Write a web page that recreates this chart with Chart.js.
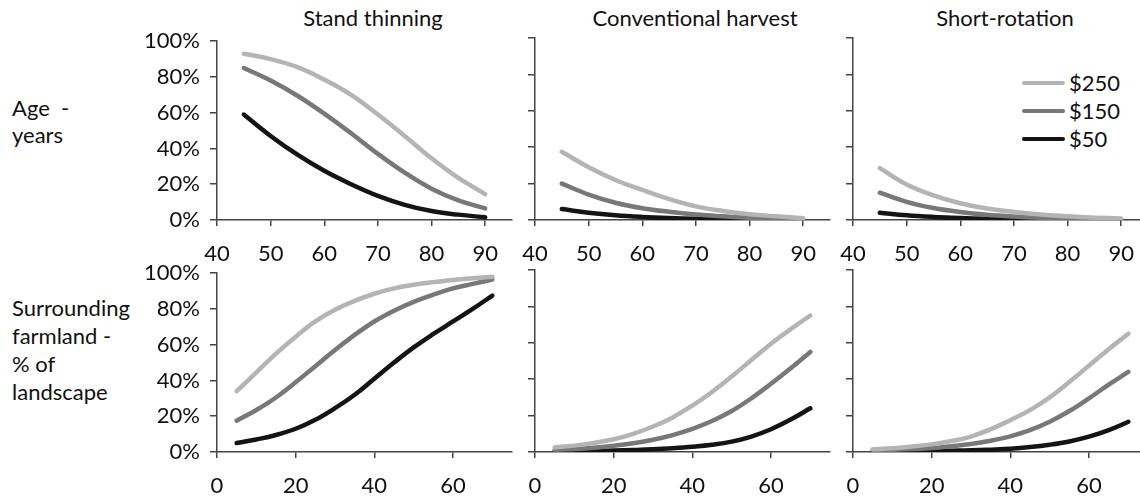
<!DOCTYPE html>
<html><head><meta charset="utf-8">
<script src="https://cdn.jsdelivr.net/npm/chart.js@4/dist/chart.umd.min.js"></script>
<style>
html,body{margin:0;padding:0;background:#fff;width:1140px;height:496px;overflow:hidden;position:relative;font-family:Lato,sans-serif;}
canvas{position:absolute;}
.t{position:absolute;font-size:22px;color:#111;white-space:nowrap;line-height:28px;}
.ttl{transform:translateX(-50%);}
.lg{position:absolute;left:1022px;top:69px;font-size:22px;color:#111;line-height:28px;}
.lg div{display:flex;align-items:center;height:28px;}
.lg span.b{display:inline-block;width:43px;height:4px;margin-right:4px;border-radius:2px;}
</style></head><body>
<div class="t ttl" style="left:373px;top:4px;">Stand thinning</div>
<div class="t ttl" style="left:695px;top:4px;">Conventional harvest</div>
<div class="t ttl" style="left:1005px;top:4px;">Short-rotation</div>
<div class="t" style="left:12px;top:94px;line-height:27px;">Age&nbsp; -<br>years</div>
<div class="t" style="left:12px;top:294px;">Surrounding<br>farmland -<br>% of<br>landscape</div>
<div class="lg" id="legend"></div>

<canvas id="c1" width="405" height="247" style="left:137px;top:18px"></canvas>
<canvas id="c2" width="405" height="247" style="left:455px;top:18px"></canvas>
<canvas id="c3" width="405" height="247" style="left:773px;top:18px"></canvas>
<canvas id="c4" width="405" height="247" style="left:137px;top:250px"></canvas>
<canvas id="c5" width="405" height="247" style="left:455px;top:250px"></canvas>
<canvas id="c6" width="405" height="247" style="left:773px;top:250px"></canvas>
<script>
// ---- data ----
const priceLabels = ['$250', '$150', '$50'];
const ageX  = [45, 50, 55, 60, 65, 70, 75, 80, 85, 90];
const farmX = [5, 10, 15, 20, 25, 30, 35, 40, 45, 50, 55, 60, 65, 70];
const ageTicks  = [40, 50, 60, 70, 80, 90];
const farmTicks = [0, 20, 40, 60];
const yTicks    = [0, 20, 40, 60, 80, 100];

// Age - years (top row)
const thinAge250 = [93, 90, 85.5, 78.5, 70, 59, 47, 34.5, 23.5, 14.5];
const thinAge150 = [85, 78, 69.5, 59.5, 48.5, 37, 26.5, 17.5, 11, 6.5];
const thinAge50  = [59, 47, 36.5, 27.5, 20, 13.5, 8.5, 5, 3, 1.5];
const convAge250 = [37.5, 29, 22, 16.5, 11.5, 7.5, 5, 3.2, 2, 1];
const convAge150 = [20, 14, 9.5, 6.5, 4.5, 3, 2, 1.2, 0.8, 0.5];
const convAge50  = [6, 4, 2.6, 1.7, 1.1, 0.7, 0.45, 0.3, 0.2, 0.1];
const shortAge250 = [28.5, 19.5, 13.5, 9.2, 6.3, 4.4, 3, 2, 1.3, 0.8];
const shortAge150 = [15, 10, 6.6, 4.4, 2.9, 1.9, 1.2, 0.8, 0.5, 0.3];
const shortAge50  = [4, 2.6, 1.7, 1.1, 0.7, 0.5, 0.3, 0.2, 0.1, 0.1];

// Surrounding farmland - % of landscape (bottom row)
const thinFarm250 = [34, 44.5, 55, 64.5, 73, 79.5, 84.5, 88.5, 91.5, 93.5, 95, 96.2, 97.2, 98];
const thinFarm150 = [17.5, 23.5, 30.5, 39, 48, 57, 65.5, 73, 79, 84, 88, 91.5, 94, 96.5];
const thinFarm50  = [5, 7, 9.5, 13, 18, 24.5, 32, 41, 50, 58.5, 66, 73, 80, 87.5];
const convFarm250 = [2.5, 3.5, 5, 7, 10, 14, 19, 25.5, 33, 41.5, 50.5, 59.5, 67.5, 75];
const convFarm150 = [1.2, 1.7, 2.4, 3.4, 4.8, 6.7, 9.3, 12.7, 17, 22.5, 29.5, 37.5, 46, 55];
const convFarm50  = [0.3, 0.4, 0.6, 0.8, 1.1, 1.5, 2.1, 2.9, 4, 5.7, 8.5, 12.5, 17.8, 24];
const shortFarm250 = [1.5, 2, 3, 4.2, 6, 8.5, 12.5, 17.5, 23, 30, 38.5, 47.5, 56.5, 65];
const shortFarm150 = [1, 1.2, 1.6, 2.2, 3.2, 4.4, 6.2, 8.6, 12, 16.6, 22.5, 29.5, 37, 44];
const shortFarm50  = [0.2, 0.3, 0.4, 0.5, 0.7, 0.9, 1.3, 1.8, 2.7, 4, 5.8, 8.4, 12, 16.6];

// ---- styles ----
const colors = ['#b4b4b4', '#787878', '#141414'];
const AX = '#444';
const FONT = {family: 'Lato', size: 22};
const Y_W = 80, X_H = 45;

// legend
const lg = document.getElementById('legend');
priceLabels.forEach((l, i) => {
  const d = document.createElement('div');
  d.innerHTML = '<span class="b" style="background:' + colors[i] + '"></span><span>' + l + '</span>';
  lg.appendChild(d);
});

function makeChart(id, xs, series, xMin, xMax, xTicks, showY) {
  const datasets = series.map((vals, i) => ({
    label: priceLabels[i],
    data: xs.map((x, j) => ({x: x, y: vals[j]})),
    borderColor: colors[i],
    borderWidth: 4.5,
    pointRadius: 0,
    fill: false,
    tension: 0.4,
    borderCapStyle: 'round'
  }));
  new Chart(document.getElementById(id), {
    type: 'line',
    data: {datasets: datasets},
    options: {
      responsive: false,
      animation: false,
      events: [],
      layout: {padding: {top: 20, right: 30, left: 0, bottom: 0}},
      plugins: {legend: {display: false}, tooltip: {enabled: false}},
      scales: {
        x: {
          type: 'linear', min: xMin, max: xMax,
          afterBuildTicks: s => { s.ticks = xTicks.map(v => ({value: v})); },
          afterFit: s => { s.height = X_H; },
          grid: {display: true, drawOnChartArea: false, drawTicks: true, tickLength: 6, color: AX, lineWidth: 1.5},
          border: {display: true, color: AX, width: 1.5},
          ticks: {font: FONT, color: '#111', padding: 15, maxRotation: 0, autoSkip: false}
        },
        y: {
          type: 'linear', min: 0, max: 100,
          afterBuildTicks: s => { s.ticks = yTicks.map(v => ({value: v})); },
          afterFit: s => { s.width = Y_W; },
          grid: {display: true, drawOnChartArea: false, drawTicks: true, tickLength: 7, color: AX, lineWidth: 1.5},
          border: {display: true, color: AX, width: 1.5},
          ticks: {display: showY, font: FONT, color: '#111', padding: 10, callback: v => v + '%'}
        }
      }
    }
  });
}

makeChart('c1', ageX, [thinAge250, thinAge150, thinAge50], 40, 95, ageTicks, true);
makeChart('c2', ageX, [convAge250, convAge150, convAge50], 40, 95, ageTicks, false);
makeChart('c3', ageX, [shortAge250, shortAge150, shortAge50], 40, 95, ageTicks, false);
makeChart('c4', farmX, [thinFarm250, thinFarm150, thinFarm50], 0, 75, farmTicks, true);
makeChart('c5', farmX, [convFarm250, convFarm150, convFarm50], 0, 75, farmTicks, false);
makeChart('c6', farmX, [shortFarm250, shortFarm150, shortFarm50], 0, 75, farmTicks, false);
</script>
</body></html>
